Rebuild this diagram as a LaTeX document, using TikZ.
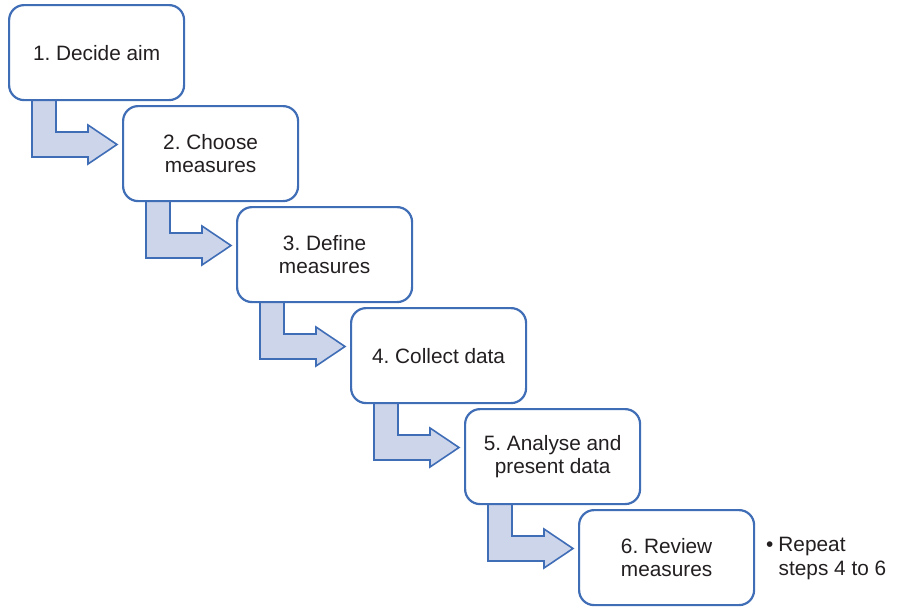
\documentclass[tikz,border=0pt]{standalone}
\usepackage{fontspec}
\setmainfont{Liberation Sans}
\usetikzlibrary{calc}
\definecolor{boxblue}{HTML}{3F6DB6}
\definecolor{arrowfill}{HTML}{CDD5EA}
\definecolor{txt}{HTML}{231F20}
\tikzset{
  stepbox/.style={draw=boxblue, line width=2.2pt, fill=white, rounded corners=15pt,
    minimum width=175pt, minimum height=95pt, inner sep=0pt, anchor=north west,
    align=center, text=txt, font=\fontsize{20.8}{23.5}\selectfont\frenchspacing},
  bentarrow/.style={draw=boxblue, line width=1.6pt, fill=arrowfill, line join=miter},
  note/.style={text=txt, font=\fontsize{20.8}{23.5}\selectfont\frenchspacing, anchor=north west, align=left, inner sep=0pt}
}
\begin{document}
\begin{tikzpicture}[x=1pt,y=-1pt]
\useasboundingbox (0,0) rectangle (897,606);
% arrows first (under boxes)
\foreach \k in {0,...,4}{
  \coordinate (a\k) at ({8+114*\k+24},{4+101*\k+95});
  \draw[bentarrow] (a\k) -- ++(24,0) -- ++(0,33) -- ++(32,0) -- ++(0,-7)
     -- ++(29,19.5) -- ++(-29,19.5) -- ++(0,-7) -- ++(-56,0) -- cycle;
}
\node[stepbox] (b1) at (8,4) {1. Decide aim};
\node[stepbox] (b2) at (122,105) {2. Choose\\measures};
\node[stepbox] (b3) at (236,206) {3. Define\\measures};
\node[stepbox] (b4) at (350,307) {4. Collect data};
\node[stepbox] (b5) at (464,408) {5. Analyse and\\present data};
\node[stepbox] (b6) at (578,509) {6. Review\\measures};
\node[note] (n1) at (766,537) {\textbullet\hspace{5pt}Repeat\\\hspace{12.5pt}steps 4 to 6};
\end{tikzpicture}
\end{document}
